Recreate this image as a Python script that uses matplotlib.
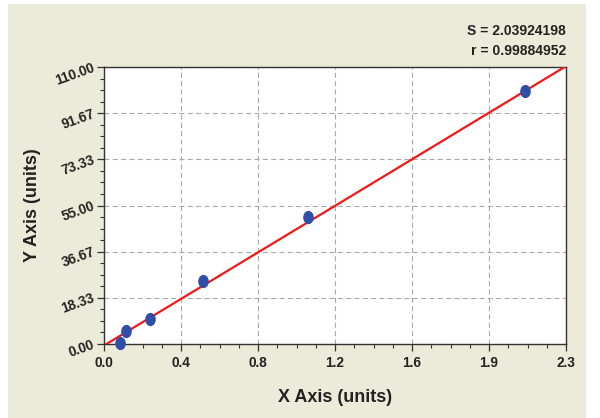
import numpy as np
import matplotlib
matplotlib.use("Agg")
import matplotlib.pyplot as plt
from matplotlib.patches import Rectangle
from matplotlib.path import Path
from matplotlib.ticker import AutoMinorLocator

plt.rcParams["font.family"] = ["Liberation Sans", "DejaVu Sans"]
plt.rcParams["font.weight"] = "bold"

# standard points
x_vals = [0.081, 0.111, 0.232, 0.499, 1.029, 2.123]
y_vals = [0.5, 5.2, 9.9, 25.0, 50.4, 100.5]

# fitted line
fit_slope = 47.6
fit_intercept = -0.6

x_max = 2.33
y_max = 110.0
x_tick_labels = ["0.0", "0.4", "0.8", "1.2", "1.6", "1.9", "2.3"]
y_tick_labels = ["0.00", "18.33", "36.67", "55.00", "73.33", "91.67", "110.00"]

stats_text = "S = 2.03924198\nr = 0.99884952"

BG = "#ecead9"
INK = "#222222"

fig = plt.figure(figsize=(6.0, 4.18), dpi=100, facecolor="white")
fig.patches.append(Rectangle((8 / 600, 0), 578 / 600, 414 / 418,
                             transform=fig.transFigure, facecolor=BG,
                             edgecolor="none", zorder=-10))

ax = fig.add_axes([104 / 600, 74 / 418, 462 / 600, 277 / 418])
ax.set_facecolor("white")

# grid
ax.grid(True, which="major", color="#a8a8a8", linestyle=(0, (4.5, 3)), linewidth=0.8)
ax.set_axisbelow(True)

# fit line
x0 = -fit_intercept / fit_slope
line_x = np.array([x0, x_max])
ax.plot(line_x, fit_slope * line_x + fit_intercept, color="#f01818", lw=1.6,
        zorder=3, clip_on=True)

# slightly tall ellipse markers
circle = Path.unit_circle()
ellipse = Path(circle.vertices * np.array([0.78, 1.0]), circle.codes)
ax.plot(x_vals, y_vals, linestyle="none", marker=ellipse, markersize=8.5,
        color="#2f4fa6", zorder=4, clip_on=False)

ax.set_xlim(0, x_max)
ax.set_ylim(0, y_max)
ax.set_xticks(np.linspace(0, x_max, len(x_tick_labels)))
ax.set_xticklabels(x_tick_labels)
ax.set_yticks(np.linspace(0, y_max, len(y_tick_labels)))
ax.set_yticklabels(y_tick_labels, rotation=20, rotation_mode="anchor",
                   ha="right", va="center")
ax.xaxis.set_minor_locator(AutoMinorLocator(4))
ax.yaxis.set_minor_locator(AutoMinorLocator(4))

ax.tick_params(which="major", direction="out", length=5, width=0.9,
               color="#333333", labelsize=9.8, labelcolor=INK)
ax.tick_params(axis="x", which="major", pad=3.5)
ax.tick_params(axis="y", which="major", pad=2)
ax.tick_params(which="minor", direction="out", length=3, width=0.8,
               color="#333333")

for s in ax.spines.values():
    s.set_color("#333333")
    s.set_linewidth(1.0)

ax.set_xlabel("X Axis (units)", fontsize=13, fontweight="bold", color=INK)
ax.set_ylabel("Y Axis (units)", fontsize=13, fontweight="bold", color=INK)
ax.xaxis.set_label_coords(0.5, -0.162)
ax.yaxis.set_label_coords(-0.136, 0.5)

fig.text(566 / 600, 1 - 41 / 418, stats_text, ha="right", va="center",
         fontsize=10, fontweight="bold", color=INK, linespacing=1.6)

fig.savefig("out.png", dpi=100, facecolor=fig.get_facecolor())
